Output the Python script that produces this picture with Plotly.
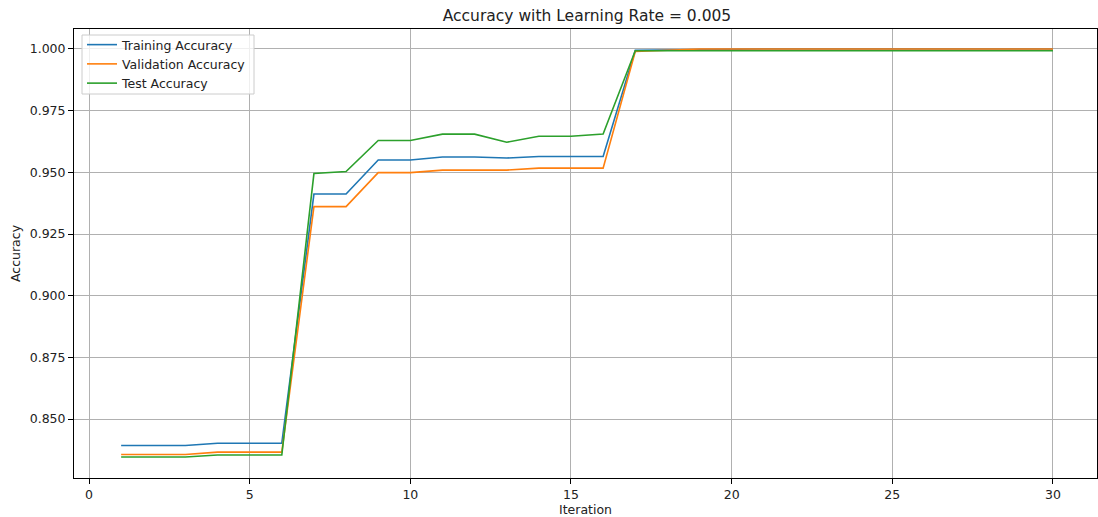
import plotly.graph_objects as go

iterations = list(range(1, 31))
train_acc = [0.8393, 0.8393, 0.8393, 0.8402, 0.8402, 0.8402, 0.9412, 0.9412, 0.9550, 0.9550,
             0.9562, 0.9562, 0.9558, 0.9564, 0.9564, 0.9564, 0.9995, 0.9996] + [1.0] * 12
val_acc = [0.8356, 0.8356, 0.8356, 0.8366, 0.8366, 0.8366, 0.9361, 0.9361, 0.9499, 0.9499,
           0.9509, 0.9509, 0.9509, 0.9517, 0.9517, 0.9517, 0.9990, 0.9995] + [1.0] * 12
test_acc = [0.8346, 0.8346, 0.8346, 0.8354, 0.8354, 0.8354, 0.9495, 0.9503, 0.9629, 0.9629,
            0.9655, 0.9655, 0.9622, 0.9646, 0.9646, 0.9655] + [0.9993] * 14

series = [("Training Accuracy", train_acc, "#1f77b4"),
          ("Validation Accuracy", val_acc, "#ff7f0e"),
          ("Test Accuracy", test_acc, "#2ca02c")]

fig = go.Figure()
for name, vals, color in series:
    fig.add_trace(go.Scatter(x=iterations, y=vals, mode="lines", name=name,
                             line=dict(color=color, width=1.6)))

axis_common = dict(showline=True, linecolor="black", linewidth=1, mirror=True,
                   showgrid=True, gridcolor="#b0b0b0", gridwidth=1,
                   ticks="outside", ticklen=5, tickcolor="black", zeroline=False,
                   tickfont=dict(size=12.5, color="#222222"))

W, H = 1098, 517
L, R, T, B = 74, 1, 29, 39
PW, PH = W - L - R, H - T - B

def px_x(p):
    return (p - L) / PW

def px_y(p):
    return 1 - (p - T) / PH

# legend frame (matplotlib-style box)
fig.add_shape(type="rect", xref="paper", yref="paper",
              x0=px_x(82), x1=px_x(254), y0=px_y(94), y1=px_y(35),
              line=dict(color="#cccccc", width=1), fillcolor="rgba(255,255,255,0.8)",
              layer="above")

fig.update_layout(
    width=W, height=H,
    margin=dict(l=L, r=R, t=T, b=B),
    paper_bgcolor="white", plot_bgcolor="white",
    font=dict(family="DejaVu Sans", color="#222222"),
    title=dict(text="Accuracy with Learning Rate = 0.005", x=587 / W, xanchor="center",
               y=1 - 16 / H, yanchor="middle", font=dict(size=15.5)),
    legend=dict(x=px_x(82), y=px_y(30), xanchor="left", yanchor="top",
                bgcolor="rgba(0,0,0,0)", borderwidth=0,
                font=dict(size=12.5), tracegroupgap=0),
    xaxis=dict(range=[-0.467, 31.37], tickvals=[0, 5, 10, 15, 20, 25, 30],
               title=dict(text="Iteration", font=dict(size=12.5), standoff=3), **axis_common),
    yaxis=dict(range=[0.8261, 1.0081],
               tickvals=[0.850, 0.875, 0.900, 0.925, 0.950, 0.975, 1.000],
               tickformat=".3f",
               title=dict(text="Accuracy", font=dict(size=12.5), standoff=6), **axis_common),
)

fig.write_html("out.html", config={"displayModeBar": False},
               post_script="document.body.style.margin='0';document.body.style.overflow='hidden';")
